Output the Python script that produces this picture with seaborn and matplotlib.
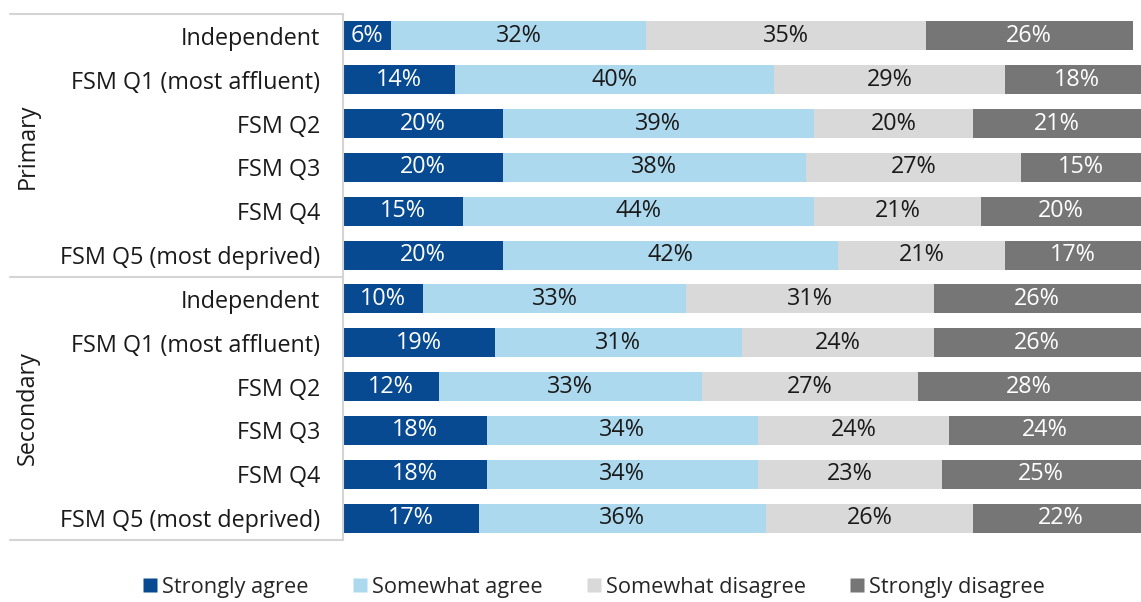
import matplotlib
matplotlib.use("Agg")
import matplotlib.pyplot as plt
from matplotlib.lines import Line2D
import numpy as np
import pandas as pd
import seaborn as sns

# Survey responses by school phase and FSM quintile (percent of respondents)
phases = ["Primary"] * 6 + ["Secondary"] * 6
groups = ["Independent", "FSM Q1 (most affluent)", "FSM Q2", "FSM Q3", "FSM Q4",
          "FSM Q5 (most deprived)"] * 2
strongly_agree = [6, 14, 20, 20, 15, 20, 10, 19, 12, 18, 18, 17]
somewhat_agree = [32, 40, 39, 38, 44, 42, 33, 31, 33, 34, 34, 36]
somewhat_disagree = [35, 29, 20, 27, 21, 21, 31, 24, 27, 24, 23, 26]
strongly_disagree = [26, 18, 21, 15, 20, 17, 26, 26, 28, 24, 25, 22]

responses = ["Strongly agree", "Somewhat agree", "Somewhat disagree", "Strongly disagree"]
colors = ["#074a92", "#add9ef", "#d9d9d9", "#767676"]
text_colors = ["white", "#1a1a1a", "#1a1a1a", "white"]

sns.set_theme(style="white")
plt.rcParams["font.family"] = ["Open Sans", "DejaVu Sans"]
FS = 16.8
LEG_FS = 15.7

row_keys = [f"{p[0]}{i}" for i, p in enumerate(phases)]
df = pd.DataFrame({"row": row_keys, "phase": phases, "group": groups})
series = [strongly_agree, somewhat_agree, somewhat_disagree, strongly_disagree]
for name, vals in zip(responses, series):
    df[name] = vals
cum = df[responses].cumsum(axis=1)

fig = plt.figure(figsize=(11.41, 6.02), dpi=100)
W, H = 1141, 602
ax = fig.add_axes([343 / W, 1 - 540 / H, (1141 - 343) / W, (540 - 14) / H])

# Stacked bars: draw cumulative totals from the outermost segment inwards
for name, col in reversed(list(zip(responses, colors))):
    sns.barplot(data=cum.assign(row=df["row"]), x=name, y="row", order=row_keys,
                orient="h", color=col, saturation=1, width=0.66, ax=ax,
                edgecolor="none", linewidth=0)

# Segment value labels
for i in range(len(df)):
    start = 0
    for name, tc in zip(responses, text_colors):
        v = df.loc[i, name]
        ax.text(start + v / 2, i, f"{v}%", ha="center", va="center",
                fontsize=FS, color=tc)
        start += v

ax.set_xlim(0, 100)
ax.set_ylim(11.5, -0.5)
ax.set_xlabel("")
ax.set_ylabel("")
ax.set_xticks([])
ax.set_yticks(range(len(df)))
ax.set_yticklabels(groups, fontsize=FS, color="#1a1a1a")
ax.tick_params(axis="y", length=0, pad=16.5)
for s in ["top", "right", "bottom"]:
    ax.spines[s].set_visible(False)
ax.spines["left"].set_color("#d4d4d4")
ax.spines["left"].set_linewidth(1.5)

# Category box lines on the left
line_kw = dict(color="#d4d4d4", linewidth=1.5, transform=fig.transFigure)
for ypx in [14, 277, 540]:
    fig.add_artist(Line2D([10 / W, 343 / W], [1 - ypx / H, 1 - ypx / H], **line_kw))

for phase, ypx in [("Primary", 146), ("Secondary", 408)]:
    fig.text(28 / W, 1 - ypx / H, phase, rotation=90, ha="center", va="center",
             fontsize=FS, color="#1a1a1a")

# Legend along the bottom
handles = [Line2D([], [], marker="s", linestyle="none", markersize=10.5,
                  markerfacecolor=c, markeredgecolor="none") for c in colors]
fig.legend(handles, responses, loc="center", bbox_to_anchor=(593 / W, 1 - 587 / H),
           ncol=4, frameon=False, fontsize=LEG_FS, handletextpad=0.15,
           columnspacing=1.95, handlelength=0.8, borderpad=0.1)

fig.savefig("out.png", dpi=100)
